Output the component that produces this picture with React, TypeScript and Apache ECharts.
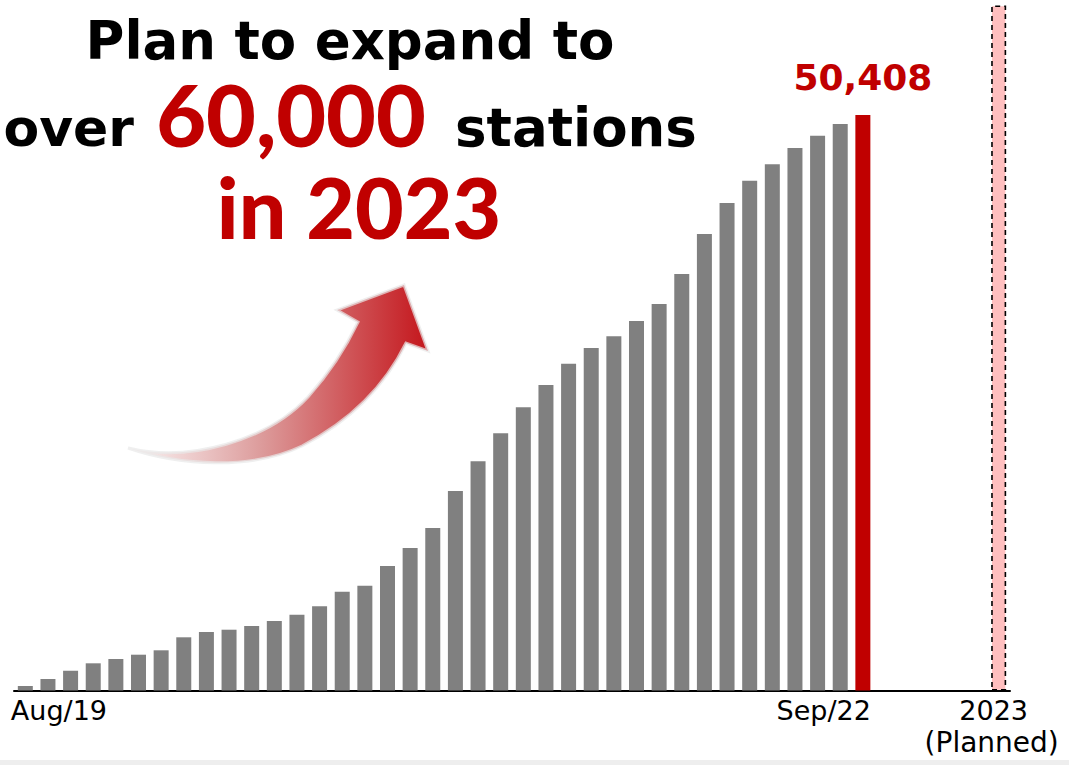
import React, { useEffect, useRef } from 'react';
import * as echarts from 'echarts';

const months = [
  'Aug/19', 'Sep/19', 'Oct/19', 'Nov/19', 'Dec/19',
  'Jan/20', 'Feb/20', 'Mar/20', 'Apr/20', 'May/20', 'Jun/20', 'Jul/20', 'Aug/20', 'Sep/20', 'Oct/20', 'Nov/20', 'Dec/20',
  'Jan/21', 'Feb/21', 'Mar/21', 'Apr/21', 'May/21', 'Jun/21', 'Jul/21', 'Aug/21', 'Sep/21', 'Oct/21', 'Nov/21', 'Dec/21',
  'Jan/22', 'Feb/22', 'Mar/22', 'Apr/22', 'May/22', 'Jun/22', 'Jul/22', 'Aug/22', 'Sep/22',
];
const gapSlots = [' ', '  ', '   ', '    ', '     '];
const plannedCategory = '2023';
const categories = [...months, ...gapSlots, plannedCategory];

const stationCounts = [
  394, 1007, 1734, 2382, 2759,
  3136, 3521, 4660, 5124, 5325, 5650, 6088, 6639, 7375, 8654, 9179, 10905,
  12482, 14233, 17474, 20076, 22528, 24805, 26759, 28625, 30000, 31025, 32365, 33854,
  36481, 39985, 42700, 44653, 46090, 47518, 48595, 49620, 50408,
];
const plannedCount = 60000;

const tickLabels = ['Aug/19', 'Sep/22', '2023'];
const plannedNote = '(Planned)';
const titleLine1 = 'Plan to expand to';
const titleLine2 = ['over', '60,000', 'stations'];
const titleLine3 = 'in 2023';

const RED = '#C00000';
const GRAY = '#808080';
const PINK = '#FFBFBF';

const arrowD =
  'M128 448 C 190 463, 268 440, 308 397 C 332 370, 348 343, 358 322 L 337 310 L 404 285 L 428 351 L 406 343 C 386 384, 352 420, 302 446 C 252 470, 180 466, 128 448 Z';

let registered = false;

export default function App() {
  const ref = useRef<HTMLDivElement>(null);

  useEffect(() => {
    if (!ref.current) return;
    if (!registered) {
      echarts.graphic.registerShape('riseArrow', echarts.graphic.extendPath(arrowD, {}));
      registered = true;
    }
    const chart = echarts.init(ref.current, null, { renderer: 'svg' });
    const lastIdx = stationCounts.length - 1;

    const data = categories.map((c, i) => {
      if (i < stationCounts.length) {
        if (i === lastIdx) {
          return {
            value: stationCounts[i],
            itemStyle: { color: RED },
            label: {
              show: true,
              position: 'top',
              distance: 20,
              formatter: (p: any) => Number(p.value).toLocaleString('en-US'),
              color: RED,
              fontSize: 36,
              fontWeight: 'bold',
              fontFamily: 'DejaVu Sans',
            },
          };
        }
        return stationCounts[i];
      }
      if (c === plannedCategory) {
        return {
          value: plannedCount,
          itemStyle: { color: PINK, borderColor: '#000', borderWidth: 1.6, borderType: [5, 4] },
        };
      }
      return '-';
    });

    chart.setOption({
      animation: false,
      backgroundColor: '#fff',
      grid: { left: 14, right: 59, top: 5.5, bottom: 74.5 },
      xAxis: {
        type: 'category',
        data: categories,
        boundaryGap: true,
        axisLine: { show: true, lineStyle: { color: '#000', width: 2 } },
        axisTick: { show: false },
        axisLabel: { show: false },
      },
      yAxis: {
        type: 'value',
        min: 0,
        max: plannedCount,
        show: false,
        splitLine: { show: false },
      },
      series: [
        {
          type: 'bar',
          data,
          barWidth: 15,
          itemStyle: { color: GRAY },
          emphasis: { disabled: true },
        },
      ],
    });

    const px = (c: string) => chart.convertToPixel({ xAxisIndex: 0 }, c) as number;
    const xAug = px(tickLabels[0]);
    const xSep = px(tickLabels[1]);
    const x23 = px(tickLabels[2]);

    const labelFont = { fontFamily: 'DejaVu Sans', fontSize: 27, fill: '#000' };
    const titleBlack = { fontFamily: 'DejaVu Sans', fontWeight: 'bold', fontSize: 53, fill: '#000' };
    const titleRed = { fontFamily: 'Lato', fontWeight: 900, fontSize: 86, fill: RED };

    chart.setOption({
      graphic: [
        {
          type: 'riseArrow',
          x: 0,
          y: 0,
          z: 5,
          style: {
            fill: new echarts.graphic.LinearGradient(0, 0, 1, 0, [
              { offset: 0, color: 'rgba(250,242,242,0.9)' },
              { offset: 0.45, color: '#dc9a9a' },
              { offset: 1, color: '#c4161c' },
            ]),
            stroke: 'rgba(232,232,232,0.7)',
            lineWidth: 3,
          },
        },
        { type: 'text', x: 350, y: 67, style: { ...titleBlack, text: titleLine1, align: 'center', verticalAlign: 'bottom' } },
        { type: 'text', x: 134, y: 154, style: { ...titleBlack, fontSize: 52, text: titleLine2[0], align: 'right', verticalAlign: 'bottom' } },
        { type: 'text', x: 291, y: 156, style: { ...titleRed, text: titleLine2[1], align: 'center', verticalAlign: 'bottom' } },
        { type: 'text', x: 455, y: 154, style: { ...titleBlack, text: titleLine2[2], align: 'left', verticalAlign: 'bottom' } },
        { type: 'text', x: 359, y: 248, style: { ...titleRed, fontSize: 84, text: titleLine3, align: 'center', verticalAlign: 'bottom' } },
        { type: 'text', x: xAug - 14.5, y: 697, style: { ...labelFont, text: tickLabels[0], align: 'left', verticalAlign: 'top' } },
        { type: 'text', x: xSep + 8, y: 697, style: { ...labelFont, text: tickLabels[1], align: 'right', verticalAlign: 'top' } },
        { type: 'text', x: x23 - 5, y: 697, style: { ...labelFont, text: tickLabels[2], align: 'center', verticalAlign: 'top' } },
        { type: 'text', x: x23 - 7, y: 728, style: { ...labelFont, fontSize: 28, text: plannedNote, align: 'center', verticalAlign: 'top' } },
        { type: 'rect', shape: { x: 0, y: 760, width: 1069, height: 5 }, style: { fill: '#eeeeee' } },
      ],
    });

    return () => chart.dispose();
  }, []);

  return (
    <div
      ref={ref}
      style={{ position: 'absolute', left: 0, top: 0, width: 1069, height: 765, background: '#fff' }}
    />
  );
}
